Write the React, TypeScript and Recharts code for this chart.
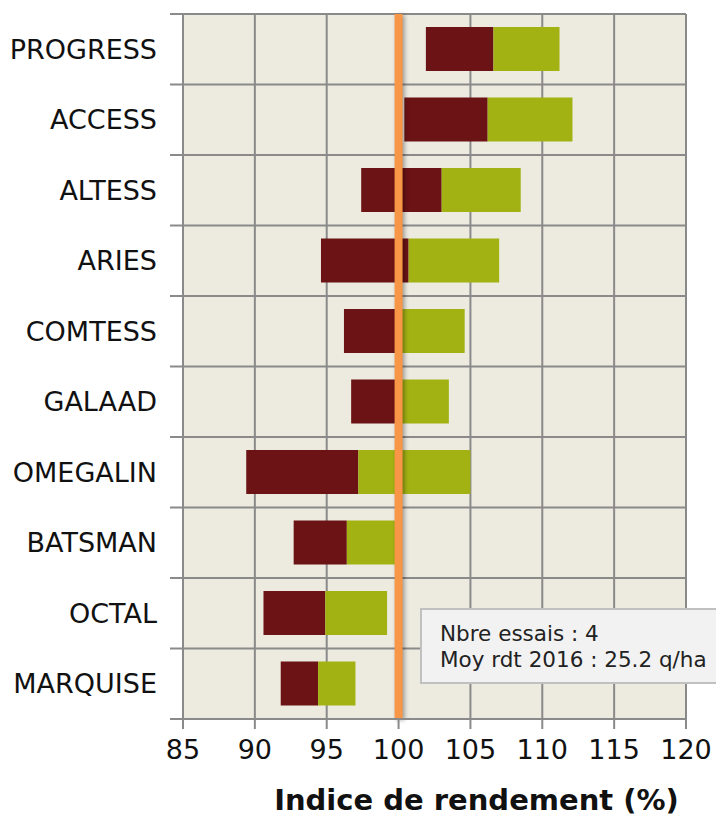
import { Bar, BarChart, CartesianGrid, ReferenceLine, XAxis, YAxis } from "recharts";

const categories = ["PROGRESS", "ACCESS", "ALTESS", "ARIES", "COMTESS", "GALAAD", "OMEGALIN", "BATSMAN", "OCTAL", "MARQUISE"];
const minVals = [101.9, 100.4, 97.4, 94.6, 96.2, 96.7, 89.4, 92.7, 90.6, 91.8];
const meanVals = [106.6, 106.2, 103.0, 100.7, 100.2, 100.2, 97.2, 96.4, 94.9, 94.4];
const maxVals = [111.2, 112.1, 108.5, 107.0, 104.6, 103.5, 105.0, 99.9, 99.2, 97.0];
const xTicks = [85, 90, 95, 100, 105, 110, 115, 120];
const refValue = 100;
const infoLines = ["Nbre essais : 4", "Moy rdt 2016 : 25.2 q/ha"];
const axisTitle = "Indice de rendement (%)";

const W = 716;
const H = 816;
const TOP = 14;
const XAXIS_H = 97;
const YAXIS_W = 183;
const TICK_SIZE = 13;
const TICK_MARGIN = 13;
const STEP = (H - TOP - XAXIS_H) / categories.length;
const FONT = "'DejaVu Sans', Verdana, sans-serif";
const GRID = "#8a8a8a";

const data = categories.map((name, i) => ({
  name,
  base: minVals[i],
  low: meanVals[i] - minVals[i],
  high: maxVals[i] - meanVals[i],
}));

function YTick(props: any) {
  const { x, y, payload, index } = props;
  const lx1 = x + TICK_MARGIN;
  const lx2 = lx1 + TICK_SIZE;
  return (
    <g>
      <line x1={lx1} x2={lx2} y1={y - STEP / 2} y2={y - STEP / 2} stroke={GRID} strokeWidth={2} />
      {index === categories.length - 1 && (
        <line x1={lx1} x2={lx2} y1={y + STEP / 2} y2={y + STEP / 2} stroke={GRID} strokeWidth={2} />
      )}
      <text x={x} y={y} dy="0.36em" textAnchor="end" fill="#111" fontSize={27} fontFamily={FONT}>
        {payload.value}
      </text>
    </g>
  );
}

function TitleLabel(props: any) {
  const vb = props.viewBox;
  return (
    <text
      x={vb.x + vb.width / 2 + 42}
      y={vb.y + vb.height - 6}
      textAnchor="middle"
      fontSize={29}
      fontWeight="bold"
      fontFamily={FONT}
      fill="#111"
    >
      {axisTitle}
    </text>
  );
}

export default function App() {
  return (
    <div style={{ position: "absolute", left: 0, top: 0, width: W, height: H, overflow: "hidden", background: "#fff" }}>
      <BarChart width={W} height={H} data={data} layout="vertical" margin={{ top: TOP, right: 30, bottom: 0, left: 0 }}>
        <CartesianGrid
          fill="#edebe0"
          stroke={GRID}
          strokeWidth={2}
          horizontalCoordinatesGenerator={({ offset }: any) =>
            categories.map((_, i) => offset.top + (i * offset.height) / categories.length).concat([offset.top + offset.height])
          }
        />
        <XAxis
          type="number"
          domain={[85, 120]}
          ticks={xTicks}
          allowDataOverflow
          height={XAXIS_H}
          tickSize={10}
          tickMargin={11}
          stroke={GRID}
          strokeWidth={2}
          tick={{ fill: "#111", fontSize: 27, fontFamily: FONT }}
          label={<TitleLabel />}
        />
        <YAxis
          type="category"
          dataKey="name"
          width={YAXIS_W}
          tickLine={false}
          tickSize={TICK_SIZE}
          tickMargin={TICK_MARGIN}
          stroke={GRID}
          strokeWidth={2}
          interval={0}
          tick={<YTick />}
        />
        <Bar dataKey="base" stackId="a" fill="transparent" barSize={44} isAnimationActive={false} />
        <Bar dataKey="low" stackId="a" fill="#6b1315" barSize={44} isAnimationActive={false} />
        <Bar dataKey="high" stackId="a" fill="#a2b213" barSize={44} isAnimationActive={false} />
        <ReferenceLine
          x={refValue}
          stroke="#f79646"
          strokeWidth={8}
          style={{ filter: "drop-shadow(2px 1px 2px rgba(0,0,0,0.35))" }}
        />
      </BarChart>
      <div
        style={{
          position: "absolute",
          left: 420,
          top: 608,
          width: 340,
          height: 76,
          background: "#f2f2f2",
          border: "2px solid #c0c0c0",
          fontFamily: FONT,
          fontSize: 21.5,
          color: "#222",
          lineHeight: "26px",
          paddingLeft: 18,
          paddingTop: 11,
          boxSizing: "border-box",
        }}
      >
        {infoLines.map((t) => (
          <div key={t} style={{ whiteSpace: "nowrap" }}>{t}</div>
        ))}
      </div>
    </div>
  );
}
